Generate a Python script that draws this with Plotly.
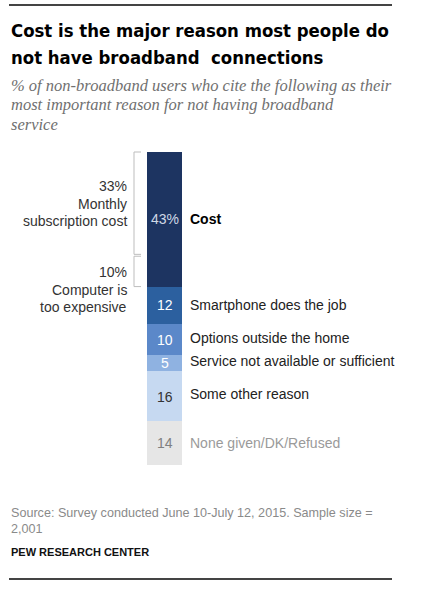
import plotly.graph_objects as go

# ---- data ----
categories = ["Cost", "Smartphone does the job", "Options outside the home",
              "Service not available or sufficient", "Some other reason",
              "None given/DK/Refused"]
values = [43, 12, 10, 5, 16, 14]
value_labels = ["43%", "12", "10", "5", "16", "14"]
cost_parts = [33, 10]
cost_part_labels = [["33%", "Monthly", "subscription cost"], ["10%", "Computer is", "too expensive"]]

title_lines = ["Cost is the major reason most people do", "not have broadband  connections"]
subtitle_lines = ["% of non-broadband users who cite the following as their",
                  "most important reason for not having broadband", "service"]
source_lines = ["Source: Survey conducted June 10-July 12, 2015. Sample size =", "2,001"]
credit = "PEW RESEARCH CENTER"

# ---- style ----
colors = ["#1d3461", "#2c609f", "#5b88c9", "#8fb2e1", "#c6d9f1", "#e6e6e6"]
value_colors = ["#d0d8e6", "#ffffff", "#ffffff", "#ffffff", "#333333", "#808080"]
label_colors = ["#000000", "#222222", "#222222", "#222222", "#222222", "#9a9a9a"]
label_yshift = [0, 0, 2, 2, 2, 0]
value_yshift = [0, 0, 0, 0, -1, 0]
BAR_X = 164.5
BAR_W = 35
SANS = "Liberation Sans"

W, H = 433, 589
BAR_TOP, BAR_BOT = 152, 465  # pixel rows where the 0% and 100% ends of the bar sit
SCALE = (BAR_BOT - BAR_TOP) / 100.0
Y_RANGE = [100 + (H - BAR_BOT) / SCALE, -BAR_TOP / SCALE]


def py(p):
    """pixel row -> paper y"""
    return 1 - p / H


def px(p):
    return p / W


def yd(p):
    """pixel row -> data y"""
    return (p - BAR_TOP) / SCALE


fig = go.Figure()

bases = []
acc = 0
for v in values:
    bases.append(acc)
    acc += v

for i, (cat, v) in enumerate(zip(categories, values)):
    fig.add_trace(go.Bar(
        x=[BAR_X], y=[v], base=[bases[i]], width=[BAR_W],
        marker=dict(color=colors[i], line=dict(width=0)),
        name=cat, showlegend=False, hoverinfo="skip",
    ))
    mid = bases[i] + v / 2
    fig.add_annotation(x=BAR_X, y=mid, xref="x", yref="y", text=value_labels[i],
                       showarrow=False, xanchor="center", yanchor="middle",
                       yshift=value_yshift[i],
                       font=dict(family=SANS, size=14, color=value_colors[i]))
    txt = "<b>%s</b>" % cat if i == 0 else cat
    fig.add_annotation(x=BAR_X + BAR_W / 2 + 6, y=mid, xref="x", yref="y", text=txt,
                       showarrow=False, xanchor="left", yanchor="middle",
                       yshift=label_yshift[i],
                       font=dict(family=SANS, size=14, color=label_colors[i]))

# brackets for cost components
BR_X = 134
TICK = 7
start = 0
line = dict(color="#bdbdbd", width=1)
for j, p in enumerate(cost_parts):
    y0 = start + (0.3 if j > 0 else 0)
    y1 = start + p - (0.3 if j == 0 else 0)
    fig.add_shape(type="line", xref="x", yref="y", x0=BR_X, x1=BR_X, y0=y0, y1=y1, line=line)
    fig.add_shape(type="line", xref="x", yref="y", x0=BR_X, x1=BR_X + TICK, y0=y0, y1=y0, line=line)
    fig.add_shape(type="line", xref="x", yref="y", x0=BR_X, x1=BR_X + TICK, y0=y1, y1=y1, line=line)
    start += p

# left labels (pixel rows of each line)
left_rows = [[186, 203.5, 221], [272, 289.5, 307]]
for lines, rows in zip(cost_part_labels, left_rows):
    for t, r in zip(lines, rows):
        fig.add_annotation(xref="paper", yref="paper", x=px(129), y=py(r), text=t,
                           showarrow=False, xanchor="right", yanchor="middle",
                           font=dict(family=SANS, size=14, color="#333333"))

# top and bottom rules
for r in (5, 579):
    fig.add_shape(type="line", xref="paper", yref="paper", x0=px(9), x1=px(392),
                  y0=py(r), y1=py(r), layer="above",
                  line=dict(color="#444444", width=2))

# title / subtitle
for t, r in zip(title_lines, [30, 57]):
    fig.add_annotation(xref="paper", yref="paper", x=px(9), y=py(r), xanchor="left",
                       yanchor="middle", showarrow=False, text="<b>%s</b>" % t,
                       font=dict(family="DejaVu Sans Condensed", size=18.4, color="#000000"))
for t, r in zip(subtitle_lines, [85, 104.5, 124]):
    fig.add_annotation(xref="paper", yref="paper", x=px(9), y=py(r), xanchor="left",
                       yanchor="middle", showarrow=False, text="<i>%s</i>" % t,
                       font=dict(family="Liberation Serif", size=16.5, color="#707070"))

# source
for t, r in zip(source_lines, [513, 529]):
    fig.add_annotation(xref="paper", yref="paper", x=px(9), y=py(r), xanchor="left",
                       yanchor="middle", showarrow=False, text=t,
                       font=dict(family=SANS, size=12.6, color="#8a8a8a"))
fig.add_annotation(xref="paper", yref="paper", x=px(9), y=py(552), xanchor="left",
                   yanchor="middle", showarrow=False, text="<b>%s</b>" % credit,
                   font=dict(family=SANS, size=11, color="#111111"))

fig.update_layout(
    width=W, height=H,
    margin=dict(l=0, r=0, t=0, b=0),
    plot_bgcolor="white", paper_bgcolor="white",
    barmode="overlay", bargap=0,
    xaxis=dict(range=[0, W], visible=False, fixedrange=True),
    yaxis=dict(range=Y_RANGE, visible=False, fixedrange=True),
    showlegend=False,
)

post = (
    "document.body.style.margin='0';"
    "var r=document.createElement('div');"
    "r.style.cssText='position:absolute;left:9px;top:4px;width:383px;height:2px;"
    "background:#444444;z-index:10;pointer-events:none;';"
    "document.body.appendChild(r);"
)
fig.write_html("out.html", config={"displayModeBar": False}, post_script=post)
